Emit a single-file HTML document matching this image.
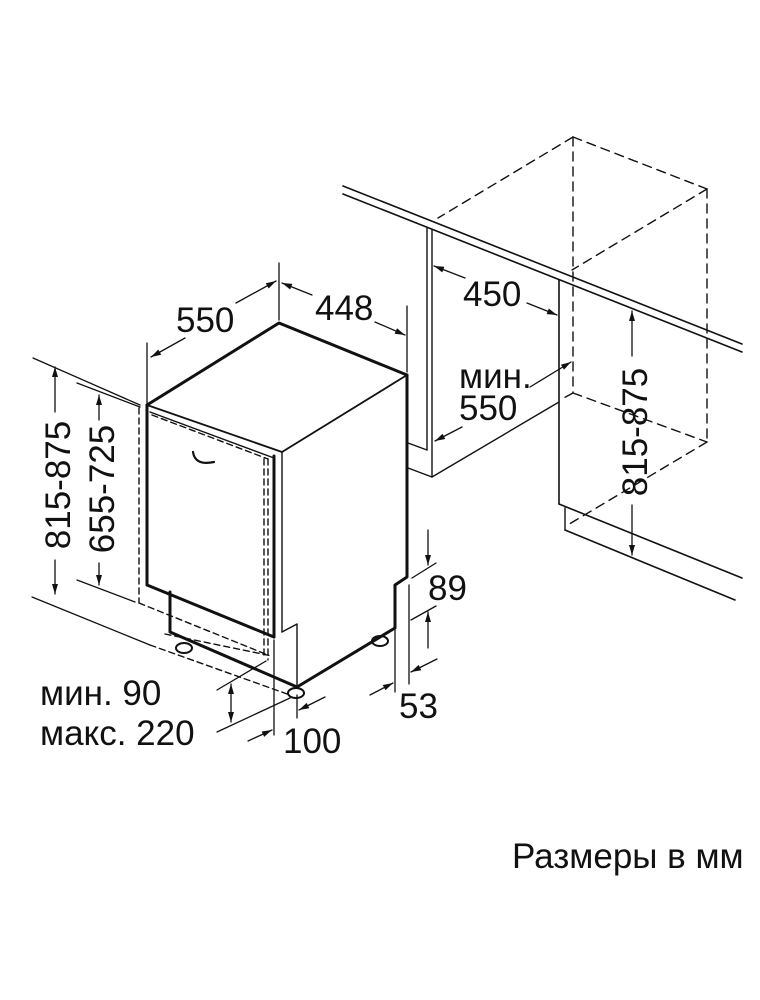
<!DOCTYPE html>
<html><head><meta charset="utf-8"><style>
html,body{margin:0;padding:0;background:#fff;}
svg{display:block}
text{font-family:"Liberation Sans","DejaVu Sans",sans-serif;fill:#111;}
</style></head><body>
<svg width="760" height="1000" viewBox="0 0 760 1000" xmlns="http://www.w3.org/2000/svg">
<defs>
<marker id="a" viewBox="0 0 10 6" refX="10" refY="3" markerWidth="12" markerHeight="6" markerUnits="userSpaceOnUse" orient="auto-start-reverse">
<path d="M0,0 L10,3 L0,6 Z" fill="#111"/></marker>
</defs>
<g stroke="#111" fill="none" stroke-linecap="round" stroke-linejoin="round">
<line x1="343" y1="186" x2="742" y2="344" stroke-width="1.6"/>
<line x1="343" y1="194" x2="742" y2="352" stroke-width="1.6"/>
<line x1="427" y1="228" x2="427" y2="450" stroke-width="1.4"/>
<line x1="432" y1="230" x2="432" y2="477" stroke-width="1.4"/>
<line x1="408" y1="443" x2="427" y2="450" stroke-width="1.4"/>
<line x1="408" y1="468" x2="432" y2="477" stroke-width="1.4"/>
<line x1="432" y1="477" x2="559" y2="402" stroke-width="1.4"/>
<line x1="559" y1="280" x2="559" y2="504" stroke-width="1.6"/>
<line x1="559" y1="504" x2="742" y2="578" stroke-width="1.6"/>
<line x1="565" y1="508" x2="565" y2="530" stroke-width="1.4"/>
<line x1="565" y1="530" x2="735" y2="600" stroke-width="1.6"/>
<g stroke-dasharray="9,6" stroke-width="1.4">
<line x1="573" y1="137" x2="707" y2="189"/>
<line x1="573" y1="137" x2="438" y2="218"/>
<line x1="573" y1="137" x2="573" y2="393"/>
<line x1="707" y1="189" x2="707" y2="442"/>
<line x1="707" y1="189" x2="572" y2="270"/>
<line x1="573" y1="393" x2="707" y2="442"/>
<line x1="707" y1="442" x2="566" y2="526"/>
<line x1="573" y1="393" x2="560" y2="400"/>
</g>
<polyline points="147,405 279,323 407,375" stroke-width="3"/>
<line x1="407" y1="375" x2="282" y2="452" stroke-width="1.8"/>
<line x1="147" y1="405" x2="282" y2="452" stroke-width="1.8"/>
<line x1="150" y1="412" x2="274" y2="458" stroke-width="1.4"/>
<polyline points="407,375 407,577 395,585 395,628 297,687" stroke-width="3"/>
<line x1="282" y1="452" x2="282" y2="632" stroke-width="1.4"/>
<polyline points="282,632 297,624 297,686" stroke-width="1.4"/>
<line x1="147" y1="405" x2="147" y2="585" stroke-width="3"/>
<line x1="274" y1="456" x2="274" y2="637" stroke-width="3"/>
<line x1="147" y1="585" x2="274" y2="637" stroke-width="3"/>
<path d="M193,452 Q195,466 214,462" stroke-width="2.2"/>
<polyline points="170,592 170,632 297,687" stroke-width="3"/>
<g stroke-dasharray="6,4" stroke-width="1.4">
<line x1="139" y1="408" x2="139" y2="603"/>
<line x1="152" y1="415" x2="268" y2="459"/>
<line x1="268" y1="459" x2="268" y2="660"/>
<line x1="264" y1="459" x2="264" y2="655"/>
<line x1="139" y1="603" x2="268" y2="655"/>
<line x1="165" y1="634" x2="272" y2="656"/>
<line x1="150" y1="645" x2="290" y2="695"/>
</g>
<ellipse cx="184" cy="648" rx="8" ry="5" stroke-width="2"/>
<ellipse cx="296" cy="693" rx="8" ry="5" stroke-width="2"/>
<ellipse cx="380" cy="641" rx="8" ry="5" stroke-width="2"/>
<line x1="147" y1="343" x2="147" y2="403" stroke-width="1.3"/>
<line x1="279" y1="263" x2="279" y2="320" stroke-width="1.3"/>
<line x1="407" y1="306" x2="407" y2="372" stroke-width="1.3"/>
<line x1="185" y1="338" x2="151" y2="357" stroke-width="1.3" marker-end="url(#a)"/>
<line x1="236" y1="303" x2="276" y2="281" stroke-width="1.3" marker-end="url(#a)"/>
<line x1="312" y1="295" x2="282" y2="283" stroke-width="1.3" marker-end="url(#a)"/>
<line x1="375" y1="322" x2="405" y2="335" stroke-width="1.3" marker-end="url(#a)"/>
<line x1="33" y1="358" x2="140" y2="405" stroke-width="1.3"/>
<line x1="32" y1="597" x2="150" y2="645" stroke-width="1.3"/>
<line x1="77" y1="383" x2="140" y2="407" stroke-width="1.3"/>
<line x1="77" y1="580" x2="135" y2="602" stroke-width="1.3"/>
<line x1="55" y1="412" x2="55" y2="367" stroke-width="1.3" marker-end="url(#a)"/>
<line x1="55" y1="560" x2="55" y2="594" stroke-width="1.3" marker-end="url(#a)"/>
<line x1="99" y1="420" x2="99" y2="395" stroke-width="1.3" marker-end="url(#a)"/>
<line x1="99" y1="563" x2="99" y2="585" stroke-width="1.3" marker-end="url(#a)"/>
<line x1="465" y1="278" x2="434" y2="266" stroke-width="1.3" marker-end="url(#a)"/>
<line x1="527" y1="303" x2="557" y2="315" stroke-width="1.3" marker-end="url(#a)"/>
<line x1="530" y1="387" x2="571" y2="362" stroke-width="1.3" marker-end="url(#a)"/>
<line x1="462" y1="427" x2="435" y2="441" stroke-width="1.3" marker-end="url(#a)"/>
<line x1="632" y1="356" x2="632" y2="311" stroke-width="1.3" marker-end="url(#a)"/>
<line x1="632" y1="505" x2="632" y2="555" stroke-width="1.3" marker-end="url(#a)"/>
<line x1="412" y1="578" x2="436" y2="563" stroke-width="1.3"/>
<line x1="411" y1="620" x2="436" y2="606" stroke-width="1.3"/>
<line x1="428" y1="530" x2="428" y2="565" stroke-width="1.3" marker-end="url(#a)"/>
<line x1="428" y1="648" x2="428" y2="612" stroke-width="1.3" marker-end="url(#a)"/>
<line x1="395" y1="630" x2="395" y2="692" stroke-width="1.3"/>
<line x1="409" y1="585" x2="409" y2="684" stroke-width="1.3"/>
<line x1="370" y1="695" x2="393" y2="683" stroke-width="1.3" marker-end="url(#a)"/>
<line x1="437" y1="659" x2="411" y2="672" stroke-width="1.3" marker-end="url(#a)"/>
<line x1="217" y1="690" x2="266" y2="661" stroke-width="1.3"/>
<line x1="217" y1="732" x2="290" y2="698" stroke-width="1.3"/>
<line x1="231" y1="684" x2="231" y2="722" stroke-width="1.3" marker-start="url(#a)" marker-end="url(#a)"/>
<line x1="274" y1="640" x2="274" y2="735" stroke-width="1.3"/>
<line x1="297" y1="695" x2="297" y2="718" stroke-width="1.3"/>
<line x1="248" y1="741" x2="272" y2="730" stroke-width="1.3" marker-end="url(#a)"/>
<line x1="325" y1="697" x2="299" y2="710" stroke-width="1.3" marker-end="url(#a)"/>
</g>
<g font-size="35">
<text x="176" y="332">550</text>
<text x="315" y="320">448</text>
<text x="463" y="306">450</text>
<text x="459" y="388">мин.</text>
<text x="459" y="420">550</text>
<text x="428" y="600">89</text>
<text x="399" y="718">53</text>
<text x="283" y="753">100</text>
<text x="40" y="705">мин. 90</text>
<text x="40" y="745">макс. 220</text>
<text transform="translate(70,485) rotate(-90)" text-anchor="middle">815-875</text>
<text transform="translate(114,489) rotate(-90)" text-anchor="middle">655-725</text>
<text transform="translate(647,432) rotate(-90)" text-anchor="middle">815-875</text>
</g>
<text x="512" y="868" font-size="35">Размеры в мм</text>
</svg>
</body></html>
